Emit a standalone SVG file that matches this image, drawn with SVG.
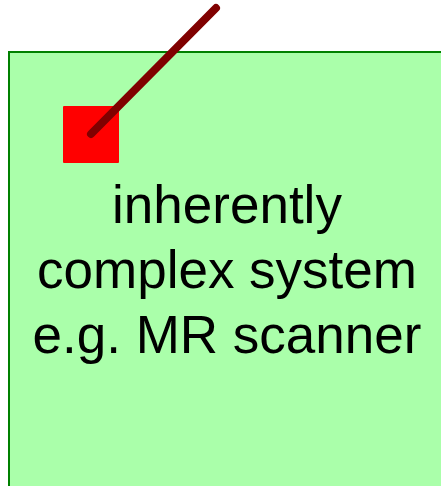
<svg xmlns="http://www.w3.org/2000/svg" width="441" height="486" viewBox="0 0 441 486">
<style>
.lbl{font-family:"Liberation Sans",Arial,sans-serif;font-size:53px;fill:#000;text-anchor:middle}
</style>
<rect width="441" height="486" fill="#fff"/>
<g id="system">
<rect x="9" y="52" width="440" height="445" fill="#aaffaa" stroke="#008000" stroke-width="2"/>
<text class="lbl" x="227" y="223">inherently</text>
<text class="lbl" x="227" y="288">complex system</text>
<text class="lbl" x="227" y="353">e.g. MR scanner</text>
</g>
<g id="port">
<rect x="63" y="106" width="56" height="57" fill="#ff0000" rx="1"/>
</g>
<g id="connectors">
<line x1="91" y1="134" x2="216" y2="8" stroke="#800000" stroke-width="8" stroke-linecap="round"/>
</g>
</svg>
